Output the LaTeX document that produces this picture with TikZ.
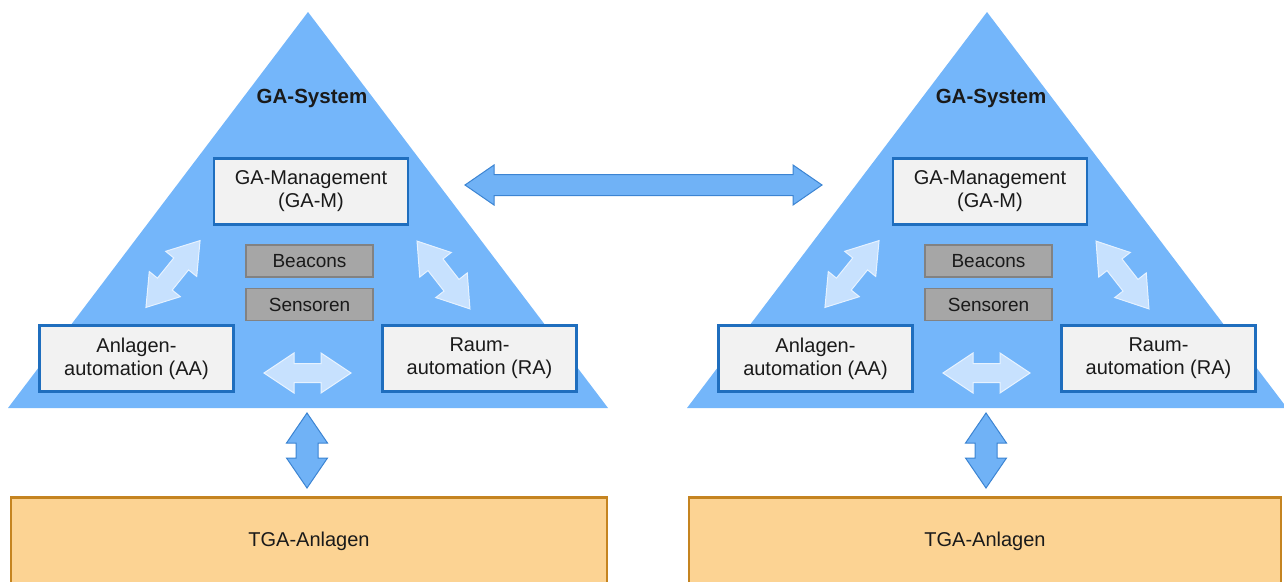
\documentclass[tikz,border=0pt]{standalone}
\usepackage{fontspec}
\setmainfont{Liberation Sans}
\definecolor{pyr}{HTML}{74B6FA}
\definecolor{boxfill}{HTML}{F2F2F2}
\definecolor{boxline}{HTML}{1F6EBE}
\definecolor{grayfill}{HTML}{A6A6A6}
\definecolor{grayline}{HTML}{828282}
\definecolor{lightarrow}{HTML}{C7E1FE}
\definecolor{lightarrowline}{HTML}{E6F2FF}
\definecolor{midarrow}{HTML}{70B2F6}
\definecolor{midarrowline}{HTML}{3C84D2}
\definecolor{plantfill}{HTML}{FCD393}
\definecolor{plantline}{HTML}{C58420}
\definecolor{txt}{HTML}{1A1A1A}

\tikzset{
  pyramid/.style={fill=pyr, draw=none},
  levelbox/.style={draw=boxline, line width=2.5pt, fill=boxfill, inner sep=0pt,
    align=center, text=txt, font=\fontsize{20}{23}\selectfont,
    minimum width=194pt, minimum height=66pt},
  sensorbox/.style={draw=grayline, line width=1.5pt, fill=grayfill, inner sep=0pt,
    text=txt, font=\fontsize{19}{22}\selectfont,
    minimum width=127pt, minimum height=32pt},
  plantbox/.style={draw=plantline, line width=2.2pt, fill=plantfill, inner sep=0pt,
    text=txt, font=\fontsize{20}{23}\selectfont},
  title/.style={text=txt, font=\bfseries\fontsize{20.5}{24}\selectfont},
  softarrow/.style={fill=lightarrow, draw=lightarrowline, line width=1pt, line join=miter},
  linkarrow/.style={fill=midarrow, draw=midarrowline, line width=1pt, line join=miter},
  % block double arrow: length, head length, head half width, shaft half width
  pics/dblarrow/.style n args={4}{code={
    \path[pic actions] (-#1/2,0) -- (-#1/2+#2,#3) -- (-#1/2+#2,#4) -- (#1/2-#2,#4)
      -- (#1/2-#2,#3) -- (#1/2,0) -- (#1/2-#2,-#3) -- (#1/2-#2,-#4)
      -- (-#1/2+#2,-#4) -- (-#1/2+#2,-#3) -- cycle;
  }}
}

% one GA system pyramid with its three levels and the sensor blocks
\newcommand{\gasystempyramid}{%
  \coordinate (apex) at (308,12);
  \coordinate (baseL) at (8,408);
  \coordinate (baseR) at (608,408);
  \fill[pyramid] (baseL) -- (apex) -- (baseR) -- cycle;
  \node[title] (sys) at (312,98) {GA-System};
  \node[levelbox] (gam) at (311,191.5) {GA-Management\\(GA-M)};
  \node[sensorbox] (beacons) at (309.5,261) {Beacons};
  \node[sensorbox] (sensoren) at (309.5,304.5) {Sensoren};
  \node[levelbox] (aa) at (136.5,358.5) {Anlagen-\\automation (AA)};
  \node[levelbox] (ra) at (479.5,358.5) {Raum-\\automation (RA)};
  \pic[softarrow, rotate=51] at (173,274) {dblarrow={86}{30}{20}{9.5}};
  \pic[softarrow, rotate=-52] at (443.5,275) {dblarrow={86}{30}{20}{9.5}};
  \pic[softarrow] at (307.5,373) {dblarrow={87}{30}{20}{9.5}};
  \pic[linkarrow, rotate=90] at (307,450.5) {dblarrow={75}{30}{20.5}{11}};
}

\begin{document}
\begin{tikzpicture}[x=1pt, y=-1pt]
  \useasboundingbox (0,0) rectangle (1284,581);

  \begin{scope}[name prefix=L-]
    \gasystempyramid
  \end{scope}
  \begin{scope}[shift={(679,0)}, name prefix=R-]
    \gasystempyramid
  \end{scope}

  % field level below each pyramid
  \node[plantbox, minimum width=596pt, minimum height=88pt] (L-tga) at (309,541.5) {TGA-Anlagen};
  \node[plantbox, minimum width=592pt, minimum height=88pt] (R-tga) at (985,541.5) {TGA-Anlagen};

  % link between the two management levels
  \coordinate (link) at (643.5,185);
  \pic[linkarrow] at (link) {dblarrow={357}{29}{20}{10.5}};
\end{tikzpicture}
\end{document}
